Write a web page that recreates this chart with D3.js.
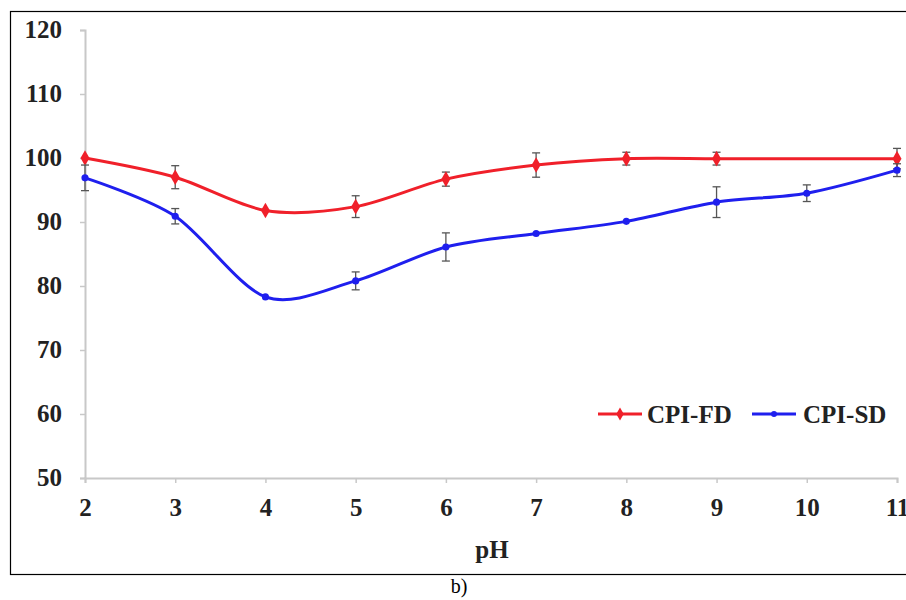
<!DOCTYPE html>
<html><head><meta charset="utf-8">
<script src="https://cdn.jsdelivr.net/npm/d3@7"></script>
<style>body{margin:0;background:#fff}svg{display:block}</style>
</head><body>
<script>
const pH = [2,3,4,5,6,7,8,9,10,11];
const fdValues = [100,97,91.8,92.4,96.7,98.9,99.9,99.9,99.9,99.9];
const fdErrors = [0.3,1.8,0.4,1.7,1.1,1.9,1.0,1.0,0,1.6];
const sdValues = [96.9,90.9,78.3,80.8,86.1,88.2,90.1,93.1,94.5,98.1];
const sdErrors = [2.0,1.2,0.4,1.4,2.2,0.4,0.4,2.4,1.3,1.0];
const yTicks = [50,60,70,80,90,100,110,120];
const xTicks = [2,3,4,5,6,7,8,9,10,11];
const seriesNames = ["CPI-FD","CPI-SD"];

const W=906,H=600;
const svg=d3.select("body").append("svg").attr("width",W).attr("height",H);
svg.append("rect").attr("x",10.5).attr("y",11.5).attr("width",905).attr("height",563)
  .attr("fill","none").attr("stroke","#000").attr("stroke-width",1.2);

const x=d3.scaleLinear().domain([2,11]).range([85,897]);
const y=d3.scaleLinear().domain([50,120]).range([478,30]);
const font="'Liberation Serif','Times New Roman',serif";
const fs=25;

const ya=svg.append("g").attr("transform","translate(85,0)")
  .call(d3.axisLeft(y).tickValues(yTicks).tickSize(5).tickPadding(18).tickFormat(d3.format("d")));
const xa=svg.append("g").attr("transform","translate(0,478)")
  .call(d3.axisBottom(x).tickValues(xTicks).tickSize(5).tickPadding(14).tickFormat(d3.format("d")));
[ya,xa].forEach(a=>{
  a.select(".domain").attr("stroke","#c8c8c8").attr("stroke-width",2);
  a.selectAll(".tick line").attr("stroke","#c8c8c8").attr("stroke-width",1.5);
  a.selectAll("text").attr("fill","#222").attr("font-family",font)
   .attr("font-weight","bold").attr("font-size",fs);
});
ya.selectAll("text").attr("dy","0.3em");
xa.selectAll("text").attr("dy","0.75em");
svg.append("text").attr("x",492).attr("y",558).attr("text-anchor","middle")
  .attr("font-family",font).attr("font-weight","bold").attr("font-size",fs).attr("fill","#222").text("pH");
svg.append("text").attr("x",459).attr("y",593).attr("text-anchor","middle")
  .attr("font-family",font).attr("font-size",20).attr("fill","#000").text("b)");

const series=[
  {name:seriesNames[0],vals:fdValues,errs:fdErrors,color:"#f0202a",sym:d3.symbolDiamond,size:70},
  {name:seriesNames[1],vals:sdValues,errs:sdErrors,color:"#1f1fee",sym:d3.symbolCircle,size:40}
];
const line=d3.line().x(d=>x(d[0])).y(d=>y(d[1])).curve(d3.curveCardinal.tension(0.1));
series.forEach(s=>{
  const pts=pH.map((p,i)=>[p,s.vals[i],s.errs[i]]);
  svg.append("path").datum(pts).attr("d",line).attr("fill","none")
    .attr("stroke",s.color).attr("stroke-width",3);
  const eb=svg.append("g").attr("stroke","#555").attr("stroke-width",1.3);
  pts.filter(d=>d[2]>0.5).forEach(d=>{
    const cx=x(d[0]),y1=y(d[1]-d[2]),y2=y(d[1]+d[2]);
    eb.append("line").attr("x1",cx).attr("x2",cx).attr("y1",y1).attr("y2",y2);
    eb.append("line").attr("x1",cx-4).attr("x2",cx+4).attr("y1",y1).attr("y2",y1);
    eb.append("line").attr("x1",cx-4).attr("x2",cx+4).attr("y1",y2).attr("y2",y2);
  });
  svg.append("g").selectAll("path").data(pts.filter(d=>d[2]>0||s.name!=="CPI-FD")).join("path")
    .attr("transform",d=>`translate(${x(d[0])},${y(d[1])})`)
    .attr("d",d3.symbol().type(s.sym).size(s.size)).attr("fill",s.color);
});

// legend
const lg=[{x0:598,tx:647},{x0:752,tx:803}];
series.forEach((s,i)=>{
  const g=svg.append("g");
  g.append("line").attr("x1",lg[i].x0).attr("x2",lg[i].x0+44).attr("y1",414).attr("y2",414)
    .attr("stroke",s.color).attr("stroke-width",3);
  g.append("path").attr("transform",`translate(${lg[i].x0+22},414)`)
    .attr("d",d3.symbol().type(s.sym).size(s.size*0.7)).attr("fill",s.color);
  g.append("text").attr("x",lg[i].tx).attr("y",423).attr("font-family",font)
    .attr("font-weight","bold").attr("font-size",fs).attr("fill","#222").text(s.name);
});
</script>
</body></html>
